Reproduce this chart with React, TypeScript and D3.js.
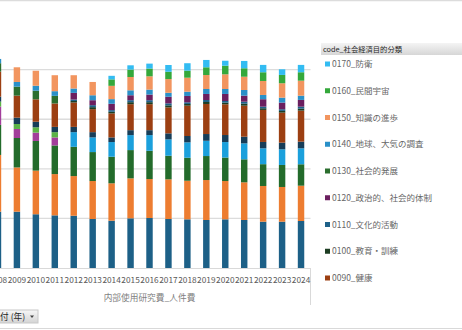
import React, { useEffect, useRef } from 'react';
import * as d3 from 'd3';

// 社会経済目的別 内部使用研究費_人件費 (億円)
const years = ['2008', '2009', '2010', '2011', '2012', '2013', '2014', '2015', '2016', '2017', '2018', '2019', '2020', '2021', '2022', '2023', '2024'];

const s0010 = [5680, 5680, 5420, 5310, 5270, 4940, 4770, 5010, 5040, 4940, 4910, 4840, 4910, 4840, 4670, 4670, 4740];
const s0020 = [5720, 4460, 4400, 4160, 4000, 3830, 3770, 4030, 3930, 4000, 3890, 4030, 3860, 3800, 3600, 3500, 3560];
const s0030 = [3030, 2970, 2990, 2890, 2950, 2920, 2680, 2850, 2850, 2380, 2320, 2420, 2370, 2320, 2200, 2220, 2160];
const s0040 = [1850, 910, 840, 810, 0, 0, 0, 0, 0, 0, 0, 0, 0, 0, 0, 0, 0];
const s0050 = [500, 500, 540, 530, 0, 0, 0, 0, 0, 0, 0, 0, 0, 0, 0, 0, 0];
const s0060 = [0, 0, 0, 0, 1480, 1480, 1480, 1510, 1580, 1650, 1550, 1540, 1560, 1610, 1600, 1580, 1610];
const s0080 = [500, 640, 560, 530, 530, 530, 470, 500, 500, 610, 640, 680, 710, 670, 640, 670, 670];
const s0090 = [2520, 2220, 2260, 2360, 2460, 2320, 2420, 2620, 2620, 2620, 3060, 3030, 3100, 3130, 3230, 3030, 3130];
const s0100 = [0, 0, 0, 0, 150, 200, 160, 200, 200, 200, 170, 200, 160, 200, 170, 170, 200];
const s0110 = [0, 0, 0, 0, 150, 200, 170, 200, 200, 200, 170, 200, 170, 200, 160, 170, 200];
const s0120 = [0, 0, 0, 0, 670, 500, 640, 500, 570, 670, 640, 610, 710, 610, 750, 670, 680];
const s0130 = [850, 910, 870, 770, 0, 0, 0, 0, 0, 0, 0, 0, 0, 0, 0, 0, 0];
const s0140 = [430, 470, 500, 470, 440, 500, 470, 500, 500, 400, 430, 500, 500, 570, 430, 500, 430];
const s0150 = [0, 1480, 1510, 1610, 1340, 1340, 1340, 1340, 1340, 1380, 1410, 1410, 1480, 1340, 1410, 1450, 1510];
const s0160 = [0, 0, 0, 0, 0, 0, 650, 750, 780, 740, 710, 780, 870, 850, 880, 840, 850];
const s0170 = [0, 0, 0, 0, 0, 0, 360, 430, 500, 680, 750, 740, 500, 740, 740, 570, 740];

// stack order, bottom to top
const seriesKeys = ['0010', '0020', '0030', '0040', '0050', '0060', '0080', '0090', '0100', '0110', '0120', '0130', '0140', '0150', '0160', '0170'];
const seriesValues = [s0010, s0020, s0030, s0040, s0050, s0060, s0080, s0090, s0100, s0110, s0120, s0130, s0140, s0150, s0160, s0170];

// legend (only these fit in the visible legend box)
const legendKeys = ['0170', '0160', '0150', '0140', '0130', '0120', '0110', '0100', '0090'];
const legendLabels = ['0170_防衛', '0160_民間宇宙', '0150_知識の進歩', '0140_地球、大気の調査', '0130_社会的発展', '0120_政治的、社会的体制', '0110_文化的活動', '0100_教育・訓練', '0090_健康'];

const COLORS = {
    '0010': '#1d6087', '0020': '#ed7d31', '0030': '#236b2b', '0040': '#a23e9b',
    '0050': '#5cb347', '0060': '#1ba0dc', '0080': '#173d58', '0090': '#9c3f12',
    '0100': '#1d3d22', '0110': '#1e6189', '0120': '#6b1f5f', '0130': '#2b6e2e',
    '0140': '#2a90c8', '0150': '#f2955f', '0160': '#34a83b', '0170': '#33bcf2'
};

const FONT = '"Noto Sans CJK JP", "Noto Sans", sans-serif';

const App = () => {
    const svgRef = useRef(null);

    useEffect(() => {
        const svg = d3.select(svgRef.current);
        svg.selectAll('*').remove();

        const width = 462;
        const height = 330;
        const plot = { left: -11.5, right: 310.5, top: 30, bottom: 268 };

        const data = years.map((yr, i) => {
            const row = { year: yr };
            seriesKeys.forEach((k, j) => { row[k] = seriesValues[j][i]; });
            return row;
        });

        const x = d3.scaleBand()
            .domain(years)
            .range([plot.left, plot.right])
            .paddingInner(0.66)
            .paddingOuter(0.33);

        const y = d3.scaleLinear()
            .domain([0, 24000])
            .range([plot.bottom, plot.top]);

        // top border line
        svg.append('line')
            .attr('x1', 0).attr('x2', width)
            .attr('y1', 0.5).attr('y2', 0.5)
            .attr('stroke', '#dcdcdc').attr('stroke-width', 1.5);

        // gridlines
        svg.append('g')
            .selectAll('line')
            .data(y.ticks(6).filter(d => d > 0))
            .join('line')
            .attr('x1', plot.left).attr('x2', plot.right)
            .attr('y1', d => y(d)).attr('y2', d => y(d))
            .attr('stroke', '#dcdcdc').attr('stroke-width', 1.3);

        // stacked bars
        const stacked = d3.stack().keys(seriesKeys)(data);
        svg.append('g')
            .selectAll('g')
            .data(stacked)
            .join('g')
            .attr('fill', d => COLORS[d.key])
            .selectAll('rect')
            .data(d => d)
            .join('rect')
            .attr('x', d => x(d.data.year))
            .attr('y', d => y(d[1]))
            .attr('width', x.bandwidth())
            .attr('height', d => y(d[0]) - y(d[1]));

        // x axis line
        svg.append('line')
            .attr('x1', plot.left).attr('x2', plot.right)
            .attr('y1', plot.bottom + 0.5).attr('y2', plot.bottom + 0.5)
            .attr('stroke', '#d9d9d9');

        svg.append('line')
            .attr('x1', plot.right).attr('x2', plot.right)
            .attr('y1', plot.bottom).attr('y2', 305)
            .attr('stroke', '#d9d9d9');

        // year labels
        const xAxis = svg.append('g')
            .attr('transform', `translate(0, ${plot.bottom})`)
            .call(d3.axisBottom(x).tickSize(0).tickPadding(9));
        xAxis.select('.domain').remove();
        xAxis.selectAll('text')
            .attr('fill', '#595959')
            .style('font-family', FONT)
            .style('font-size', '8.3px');

        // axis title
        svg.append('text')
            .attr('x', (plot.left + plot.right) / 2)
            .attr('y', 301)
            .attr('text-anchor', 'middle')
            .attr('fill', '#7f7f7f')
            .style('font-family', FONT)
            .style('font-size', '8.7px')
            .text('内部使用研究費_人件費');

        // legend
        const grad = svg.append('defs').append('linearGradient')
            .attr('id', 'hdr').attr('x1', 0).attr('y1', 0).attr('x2', 0).attr('y2', 1);
        grad.append('stop').attr('offset', '0%').attr('stop-color', '#f4f4f4');
        grad.append('stop').attr('offset', '100%').attr('stop-color', '#d6d6d6');

        svg.append('rect')
            .attr('x', 321).attr('y', 43)
            .attr('width', width - 321).attr('height', 12)
            .attr('fill', 'url(#hdr)');
        svg.append('text')
            .attr('x', 323).attr('y', 52)
            .attr('fill', '#262626')
            .style('font-family', FONT)
            .style('font-size', '7.3px')
            .text('code_社会経済目的分類');

        const legend = svg.append('g')
            .selectAll('g')
            .data(legendKeys)
            .join('g')
            .attr('transform', (d, i) => `translate(325, ${64 + i * 26.75})`);
        legend.append('rect')
            .attr('x', 0).attr('y', -2.5)
            .attr('width', 5).attr('height', 5)
            .attr('fill', d => COLORS[d]);
        legend.append('text')
            .attr('x', 7).attr('y', 3)
            .attr('fill', '#666666')
            .style('font-family', FONT)
            .style('font-size', '8.5px')
            .text((d, i) => legendLabels[i]);

        // field button (pivot chart)
        const grad2 = svg.select('defs').append('linearGradient')
            .attr('id', 'btn').attr('x1', 0).attr('y1', 0).attr('x2', 0).attr('y2', 1);
        grad2.append('stop').attr('offset', '0%').attr('stop-color', '#f7f7f7');
        grad2.append('stop').attr('offset', '100%').attr('stop-color', '#d4d4d4');
        svg.append('rect')
            .attr('x', -20).attr('y', 310)
            .attr('width', 58).attr('height', 13)
            .attr('fill', 'url(#btn)')
            .attr('stroke', '#c8c8c8');
        svg.append('text')
            .attr('x', -8.7).attr('y', 319.5)
            .attr('fill', '#262626')
            .style('font-family', FONT)
            .style('font-size', '8.7px')
            .text('日付 (年)');
        svg.append('path')
            .attr('d', 'M30,315.5 L34,315.5 L32,318 Z')
            .attr('fill', '#404040');

        // bottom line
        svg.append('line')
            .attr('x1', 0).attr('x2', width)
            .attr('y1', 328.5).attr('y2', 328.5)
            .attr('stroke', '#d9d9d9');
    }, []);

    return (
        <svg ref={svgRef} width={462} height={330}
            style={{ position: 'absolute', left: 0, top: 0, background: '#fff' }} />
    );
};

export default App;
